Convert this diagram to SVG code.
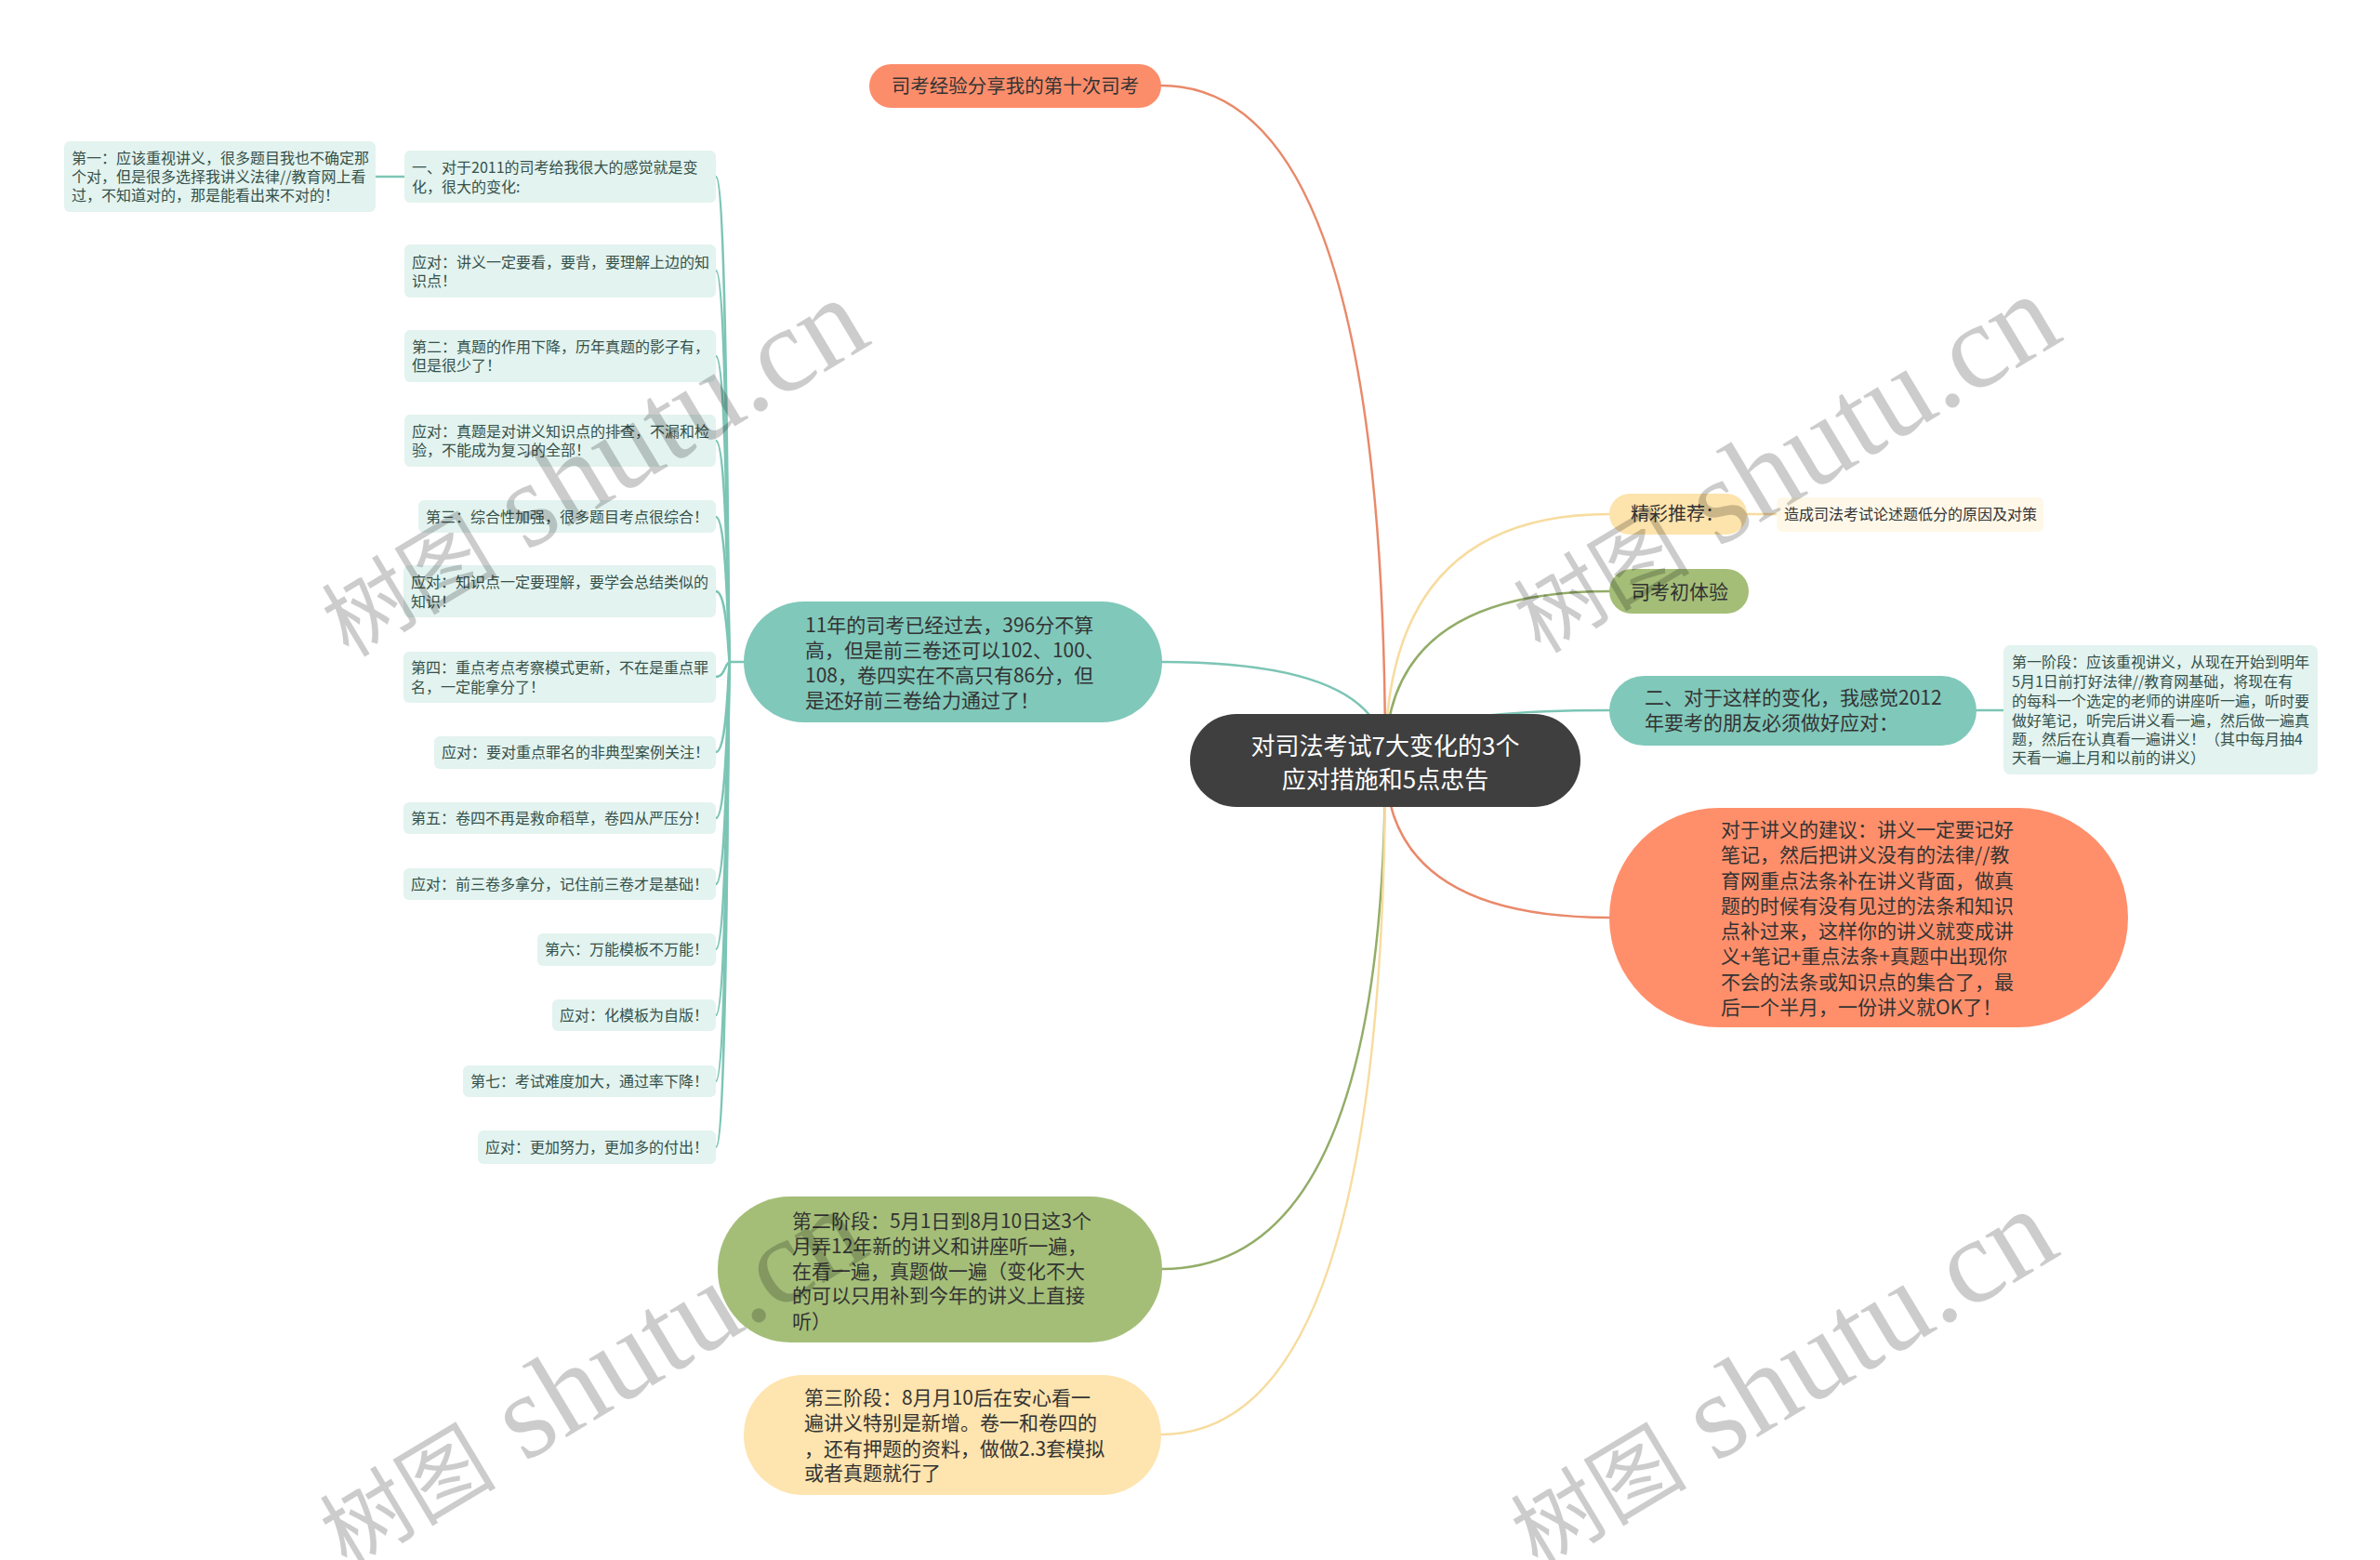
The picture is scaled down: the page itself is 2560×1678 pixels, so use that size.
<svg xmlns="http://www.w3.org/2000/svg" width="2560" height="1678" viewBox="0 0 2560 1678">
<style>
text{font-family:"Noto Sans CJK SC","Noto Sans",sans-serif;}
.leaf{fill:#E3F3EF;}
.lt{font-size:16px;fill:#34514a;}
.mt{font-size:21px;fill:#333;}
.c{fill:none;stroke-linecap:round;}
.teal{stroke:#7CC5B5;stroke-width:2.5;}
.orange{stroke:#E9896A;stroke-width:2.5;}
.yellow{stroke:#F7DC9F;stroke-width:2.5;}
.green{stroke:#93AD68;stroke-width:2.5;}
.wm{font-family:"Liberation Serif","Noto Sans CJK SC",serif;fill:#000;fill-opacity:0.2;}
</style>
<rect width="2560" height="1678" fill="#fff"/>
<g id="connectors">
<path class="c orange" d="M1490 818 Q1490 92 1249 92"/>
<path class="c yellow" d="M1490 818 Q1490 553 1731 553"/>
<path class="c yellow" d="M1879 553 L1911 553"/>
<path class="c green" d="M1490 818 Q1490 636 1731 636"/>
<path class="c teal" d="M1490 818 Q1490 764 1731 764"/>
<path class="c teal" d="M2126 764 L2155 764"/>
<path class="c orange" d="M1490 818 Q1490 987 1731 987"/>
<path class="c teal" d="M1490 818 Q1490 712 1250 712"/>
<path class="c green" d="M1490 818 Q1490 1365 1250 1365"/>
<path class="c yellow" d="M1490 818 Q1490 1543 1249 1543"/>
<path class="c teal" d="M435 190 L404 190"/>
<g class="c teal" stroke-width="2">
<path d="M800 712 L785 712"/>
<path d="M785 712 C783 712 783 190 770 190"/>
<path d="M785 712 C783 712 783 291 770 291"/>
<path d="M785 712 C783 712 783 383 770 383"/>
<path d="M785 712 C783 712 783 474 770 474"/>
<path d="M785 712 C783 712 783 556 770 556"/>
<path d="M785 712 C783 712 783 636 770 636"/>
<path d="M785 712 C780 712 780 728 770 728"/>
<path d="M785 712 C783 712 783 809 770 809"/>
<path d="M785 712 C783 712 783 880 770 880"/>
<path d="M785 712 C783 712 783 951 770 951"/>
<path d="M785 712 C783 712 783 1021 770 1021"/>
<path d="M785 712 C783 712 783 1092 770 1092"/>
<path d="M785 712 C783 712 783 1163 770 1163"/>
<path d="M785 712 C783 712 783 1234 770 1234"/>
</g>
</g>
<g id="center">
<rect x="1280" y="768" width="420" height="100" rx="50" fill="#3F3F3F"/>
<text x="1490" y="812" font-size="26" fill="#fff" text-anchor="middle">对司法考试7大变化的3个</text>
<text x="1490" y="848" font-size="26" fill="#fff" text-anchor="middle">应对措施和5点忠告</text>
</g>
<g id="n-top">
<rect x="935" y="69" width="314" height="47" rx="23.5" fill="#FC8D6B"/>
<text x="1092" y="100" font-size="20.5" fill="#333" text-anchor="middle">司考经验分享我的第十次司考</text>
</g>
<g id="n-jingcai">
<rect x="1731" y="531" width="148" height="44" rx="22" fill="#FDE3AC"/>
<text x="1754" y="560" font-size="20" fill="#333">精彩推荐：</text>
</g>
<g id="n-zaocheng">
<rect x="1911" y="535" width="287" height="37" rx="6" fill="#FFF8E8"/>
<text x="1919" y="559" font-size="16" fill="#333">造成司法考试论述题低分的原因及对策</text>
</g>
<g id="n-chutiyan">
<rect x="1731" y="612" width="150" height="48" rx="24" fill="#A4BE78"/>
<text x="1754" y="644" font-size="21" fill="#333">司考初体验</text>
</g>
<g id="n-er">
<rect x="1731" y="727" width="395" height="75" rx="37.5" fill="#80C8BA"/>
<text class="mt" x="1769" y="758">二、对于这样的变化，我感觉2012</text>
<text class="mt" x="1769" y="785">年要考的朋友必须做好应对：</text>
</g>
<g id="n-stage1">
<rect class="leaf" x="2155" y="694" width="338" height="139" rx="7"/>
<text class="lt" x="2164" y="718">第一阶段：应该重视讲义，从现在开始到明年</text>
<text class="lt" x="2164" y="739">5月1日前打好法律//教育网基础，将现在有</text>
<text class="lt" x="2164" y="760">的每科一个选定的老师的讲座听一遍，听时要</text>
<text class="lt" x="2164" y="781">做好笔记，听完后讲义看一遍，然后做一遍真</text>
<text class="lt" x="2164" y="801">题，然后在认真看一遍讲义！（其中每月抽4</text>
<text class="lt" x="2164" y="821">天看一遍上月和以前的讲义）</text>
</g>
<g id="n-jiangyi">
<rect x="1731" y="869" width="558" height="236" rx="118" fill="#FF8F6B"/>
<text class="mt" x="1851" y="900">对于讲义的建议：讲义一定要记好</text>
<text class="mt" x="1851" y="927">笔记，然后把讲义没有的法律//教</text>
<text class="mt" x="1851" y="955">育网重点法条补在讲义背面，做真</text>
<text class="mt" x="1851" y="982">题的时候有没有见过的法条和知识</text>
<text class="mt" x="1851" y="1009">点补过来，这样你的讲义就变成讲</text>
<text class="mt" x="1851" y="1036">义+笔记+重点法条+真题中出现你</text>
<text class="mt" x="1851" y="1064">不会的法条或知识点的集合了，最</text>
<text class="mt" x="1851" y="1091">后一个半月，一份讲义就OK了！</text>
</g>
<g id="n-11nian">
<rect x="800" y="647" width="450" height="130" rx="65" fill="#80C8BA"/>
<text class="mt" x="866" y="680">11年的司考已经过去，396分不算</text>
<text class="mt" x="866" y="707">高，但是前三卷还可以102、100、</text>
<text class="mt" x="866" y="734">108，卷四实在不高只有86分，但</text>
<text class="mt" x="866" y="761">是还好前三卷给力通过了！</text>
</g>
<g id="n-stage2">
<rect x="772" y="1287" width="478" height="157" rx="78" fill="#A4BE78"/>
<text class="mt" x="852" y="1321">第二阶段：5月1日到8月10日这3个</text>
<text class="mt" x="852" y="1348">月弄12年新的讲义和讲座听一遍，</text>
<text class="mt" x="852" y="1375">在看一遍，真题做一遍（变化不大</text>
<text class="mt" x="852" y="1401">的可以只用补到今年的讲义上直接</text>
<text class="mt" x="852" y="1429">听）</text>
</g>
<g id="n-stage3">
<rect x="800" y="1479" width="449" height="129" rx="64" fill="#FEE4AE"/>
<text class="mt" x="865" y="1511">第三阶段：8月月10后在安心看一</text>
<text class="mt" x="865" y="1538">遍讲义特别是新增。卷一和卷四的</text>
<text class="mt" x="865" y="1566">，还有押题的资料，做做2.3套模拟</text>
<text class="mt" x="865" y="1592">或者真题就行了</text>
</g>
<g id="leaf-1"><rect class="leaf" x="69" y="152" width="335" height="76" rx="6"/>
<text class="lt" x="77" y="176">第一：应该重视讲义，很多题目我也不确定那</text>
<text class="lt" x="77" y="196">个对，但是很多选择我讲义法律//教育网上看</text>
<text class="lt" x="77" y="216">过，不知道对的，那是能看出来不对的！</text></g>
<g id="leaf-2"><rect class="leaf" x="435" y="162" width="335" height="56" rx="6"/>
<text class="lt" x="443" y="186">一、对于2011的司考给我很大的感觉就是变</text>
<text class="lt" x="443" y="207">化，很大的变化:</text></g>
<g id="leaf-3"><rect class="leaf" x="435" y="263" width="335" height="57" rx="6"/>
<text class="lt" x="443" y="288">应对：讲义一定要看，要背，要理解上边的知</text>
<text class="lt" x="443" y="308">识点！</text></g>
<g id="leaf-4"><rect class="leaf" x="435" y="355" width="335" height="56" rx="6"/>
<text class="lt" x="443" y="379">第二：真题的作用下降，历年真题的影子有，</text>
<text class="lt" x="443" y="399">但是很少了！</text></g>
<g id="leaf-5"><rect class="leaf" x="435" y="446" width="335" height="56" rx="6"/>
<text class="lt" x="443" y="470">应对：真题是对讲义知识点的排查，不漏和检</text>
<text class="lt" x="443" y="490">验，不能成为复习的全部！</text></g>
<g id="leaf-6"><rect class="leaf" x="450" y="538" width="320" height="35" rx="6"/>
<text class="lt" x="458" y="562">第三：综合性加强，很多题目考点很综合！</text></g>
<g id="leaf-7"><rect class="leaf" x="434" y="608" width="336" height="56" rx="6"/>
<text class="lt" x="442" y="632">应对：知识点一定要理解，要学会总结类似的</text>
<text class="lt" x="442" y="653">知识！</text></g>
<g id="leaf-8"><rect class="leaf" x="434" y="701" width="336" height="55" rx="6"/>
<text class="lt" x="442" y="724">第四：重点考点考察模式更新，不在是重点罪</text>
<text class="lt" x="442" y="745">名，一定能拿分了！</text></g>
<g id="leaf-9"><rect class="leaf" x="467" y="792" width="303" height="35" rx="6"/>
<text class="lt" x="475" y="815">应对：要对重点罪名的非典型案例关注！</text></g>
<g id="leaf-10"><rect class="leaf" x="434" y="863" width="336" height="34" rx="6"/>
<text class="lt" x="442" y="886">第五：卷四不再是救命稻草，卷四从严压分！</text></g>
<g id="leaf-11"><rect class="leaf" x="434" y="934" width="336" height="34" rx="6"/>
<text class="lt" x="442" y="957">应对：前三卷多拿分，记住前三卷才是基础！</text></g>
<g id="leaf-12"><rect class="leaf" x="578" y="1004" width="192" height="35" rx="6"/>
<text class="lt" x="586" y="1027">第六：万能模板不万能！</text></g>
<g id="leaf-13"><rect class="leaf" x="594" y="1075" width="176" height="34" rx="6"/>
<text class="lt" x="602" y="1098">应对：化模板为自版！</text></g>
<g id="leaf-14"><rect class="leaf" x="498" y="1146" width="272" height="34" rx="6"/>
<text class="lt" x="506" y="1169">第七：考试难度加大，通过率下降！</text></g>
<g id="leaf-15"><rect class="leaf" x="514" y="1216" width="256" height="36" rx="6"/>
<text class="lt" x="522" y="1240">应对：更加努力，更加多的付出！</text></g>
<g id="watermarks">
<text class="wm" transform="translate(375,708) rotate(-31)"><tspan font-size="95">树图</tspan><tspan font-size="130"> shutu.cn</tspan></text>
<text class="wm" transform="translate(1657,704) rotate(-31)"><tspan font-size="95">树图</tspan><tspan font-size="130"> shutu.cn</tspan></text>
<text class="wm" transform="translate(373,1688) rotate(-31)"><tspan font-size="95">树图</tspan><tspan font-size="130"> shutu.cn</tspan></text>
<text class="wm" transform="translate(1654,1688) rotate(-31)"><tspan font-size="95">树图</tspan><tspan font-size="130"> shutu.cn</tspan></text>
</g>
</svg>
